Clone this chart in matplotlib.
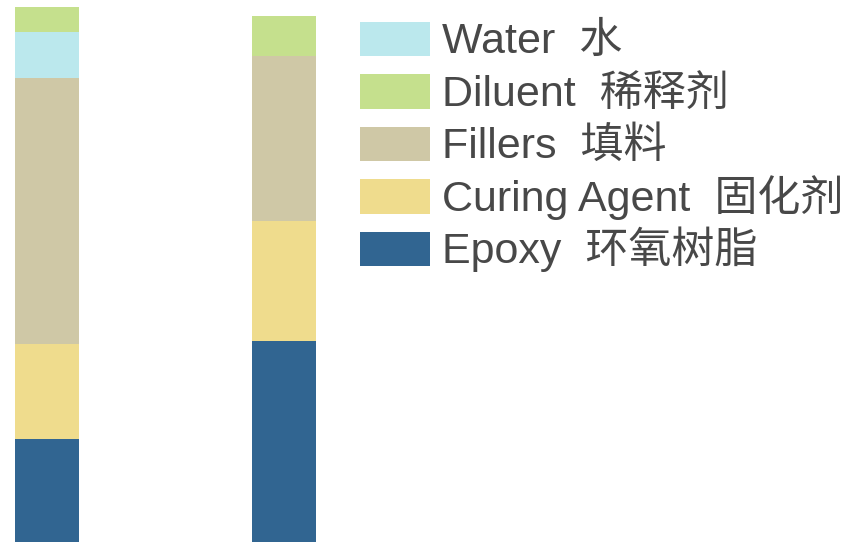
import matplotlib
matplotlib.use("Agg")
import matplotlib.pyplot as plt
from matplotlib.patches import Rectangle

# Data (stack order bottom -> top)
bars = ["Mix A", "Mix B"]
epoxy = [103, 201]
curing = [95, 120]
fillers = [266, 165]
water = [46, 0]
diluent = [25, 40]

series = [
    ("Epoxy", epoxy, "#316591"),
    ("Curing Agent", curing, "#EFDC8D"),
    ("Fillers", fillers, "#CFC8A6"),
    ("Water", water, "#BBE8ED"),
    ("Diluent", diluent, "#C5E08D"),
]

legend_labels = ["Water  水", "Diluent  稀释剂", "Fillers  填料", "Curing Agent  固化剂", "Epoxy  环氧树脂"]
legend_colors = ["#BBE8ED", "#C5E08D", "#CFC8A6", "#EFDC8D", "#316591"]

W, H = 849, 542
fig = plt.figure(figsize=(W / 100, H / 100), dpi=100)
ax = fig.add_axes([0, 0, 1, 1])

xpos = list(range(len(bars)))
bottom = [0] * len(bars)
for name, vals, col in series:
    ax.bar(xpos, vals, width=0.27, bottom=bottom, color=col, linewidth=0)
    bottom = [b + v for b, v in zip(bottom, vals)]

ax.set_xlim(-47 / 237, (W - 47) / 237)
ax.set_ylim(0, H)
ax.axis("off")

# Legend (manual, in figure pixel coordinates)
top0 = 22
pitch = 52.5
for i, (lab, col) in enumerate(zip(legend_labels, legend_colors)):
    y_top = top0 + i * pitch
    fig.patches.append(Rectangle((360 / W, 1 - (y_top + 34) / H), 70 / W, 34 / H,
                                 transform=fig.transFigure, facecolor=col, edgecolor="none"))
    fig.text(442 / W, 1 - (y_top + 31) / H, lab, fontsize=31, color="#484848",
             family=["Liberation Sans", "Noto Sans CJK SC"], va="baseline", ha="left")

fig.savefig("out.png", dpi=100)
